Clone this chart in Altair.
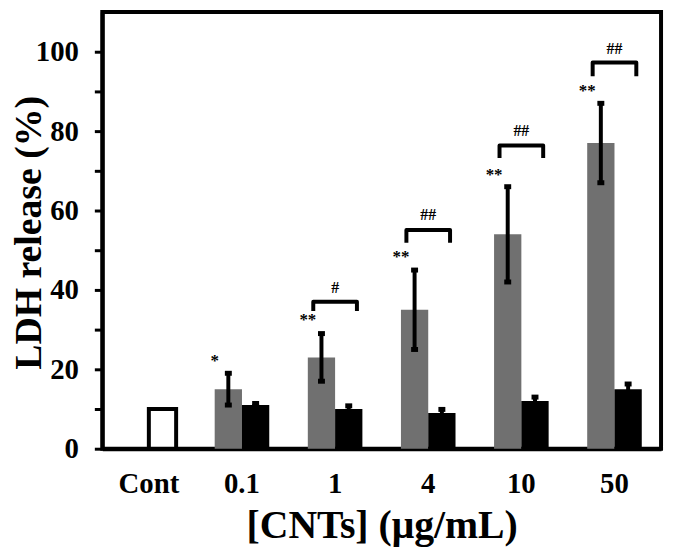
import altair as alt
import pandas as pd

categories = ["Cont", "0.1", "1", "4", "10", "50"]
gray_vals = [None, 15, 23, 35, 54, 77]
gray_err = [None, 4, 6, 10, 12, 10]
black_vals = [10, 11, 10, 9, 12, 15]
black_err = [None, 0.4, 0.8, 0.9, 1.0, 1.3]
star_labels = ["", "*", "**", "**", "**", "**"]
star_y = [None, 22, 32.5, 48.4, 69, 90]
hash_labels = ["", "", "#", "##", "##", "##"]
bracket_low = [None, None, 34.7, 51.9, 73.2, 93.8]
bracket_high = [None, None, 37.0, 55.1, 76.4, 97.3]
hash_y = [None, None, 40.4, 58.8, 79.9, 100.7]

FONT = "Liberation Serif"

bar_rows, err_rows, star_rows, hash_rows, br_rows = [], [], [], [], []
for i, c in enumerate(categories):
    if gray_vals[i] is not None:
        bar_rows.append({"cat": c, "slot": "g", "kind": "gray", "val": gray_vals[i]})
    bar_rows.append({"cat": c, "slot": "b", "kind": "cont" if c == "Cont" else "black", "val": black_vals[i]})
    if gray_err[i] is not None:
        err_rows.append({"cat": c, "slot": "g", "lo": gray_vals[i] - gray_err[i], "hi": gray_vals[i] + gray_err[i]})
    if black_err[i] is not None:
        err_rows.append({"cat": c, "slot": "b", "lo": black_vals[i] - black_err[i], "hi": black_vals[i] + black_err[i]})
    if star_y[i] is not None:
        star_rows.append({"cat": c, "slot": "g", "y": star_y[i], "t": star_labels[i]})
    if hash_y[i] is not None:
        hash_rows.append({"cat": c, "y": hash_y[i], "t": hash_labels[i]})
        br_rows += [
            {"cat": c, "side": "L", "y": bracket_low[i], "o": 0},
            {"cat": c, "side": "L", "y": bracket_high[i], "o": 1},
            {"cat": c, "side": "R", "y": bracket_high[i], "o": 2},
            {"cat": c, "side": "R", "y": bracket_low[i], "o": 3},
        ]

bars = pd.DataFrame(bar_rows)
errs = pd.DataFrame(err_rows)
stars = pd.DataFrame(star_rows)
hashes = pd.DataFrame(hash_rows)
brk = pd.DataFrame(br_rows)

xscale = alt.Scale(domain=categories, paddingInner=0.414, paddingOuter=0.207)
offscale = alt.Scale(domain=["g", "b"], paddingInner=0, paddingOuter=0)
yscale = alt.Scale(domain=[0, 110], nice=False)

x_axis = alt.Axis(title="[CNTs] (μg/mL)", labelAngle=0)
y_axis = alt.Axis(title="LDH release (%)", values=list(range(0, 101, 10)),
                  labelExpr="datum.value % 20 == 0 ? datum.label : ''")


def X():
    return alt.X("cat:N", scale=xscale, sort=categories, axis=x_axis)


def Y(field):
    return alt.Y(field, scale=yscale, axis=y_axis)


bar_layer = alt.Chart(bars).mark_bar(strokeWidth=4).encode(
    x=X(),
    xOffset=alt.XOffset("slot:N", scale=offscale),
    y=Y("val:Q"),
    fill=alt.Fill("kind:N", scale=alt.Scale(domain=["gray", "black", "cont"],
                                            range=["#707070", "#000000", "#ffffff"]), legend=None),
    stroke=alt.condition("datum.kind == 'cont'", alt.value("black"), alt.value("transparent")),
)

err_layer = alt.Chart(errs).mark_rule(strokeWidth=4, color="black").encode(
    x=X(),
    xOffset=alt.XOffset("slot:N", scale=offscale),
    y=Y("lo:Q"),
    y2="hi:Q",
)

cap_hi = alt.Chart(errs).mark_tick(thickness=5, size=7, color="black", opacity=1).encode(
    x=X(),
    xOffset=alt.XOffset("slot:N", scale=offscale),
    y=Y("hi:Q"),
)
cap_lo = alt.Chart(errs).mark_tick(thickness=5, size=7, color="black", opacity=1).encode(
    x=X(),
    xOffset=alt.XOffset("slot:N", scale=offscale),
    y=Y("lo:Q"),
)

star_layer = alt.Chart(stars).mark_text(font=FONT, fontSize=17, fontWeight="bold", color="black",
                                        baseline="middle").encode(
    x=X(),
    xOffset=alt.XOffset("slot:N", scale=offscale),
    y=Y("y:Q"),
    text="t:N",
)

hash_layer = alt.Chart(hashes).mark_text(font=FONT, fontSize=16, fontWeight="bold", color="black",
                                         baseline="middle").encode(
    x=X(),
    y=Y("y:Q"),
    text="t:N",
)

bracket_layer = alt.Chart(brk).mark_line(strokeWidth=4, color="black", strokeJoin="round",
                                         strokeCap="butt").encode(
    x=X(),
    xOffset=alt.XOffset("side:N", scale=alt.Scale(type="point", domain=["L", "R"], padding=0.125)),
    y=Y("y:Q"),
    detail="cat:N",
    order="o:Q",
)

chart = alt.layer(
    bar_layer, err_layer, cap_hi, cap_lo, star_layer, hash_layer, bracket_layer
).resolve_scale(xOffset="independent").properties(
    width=563, height=440,
    background="white",
    autosize=alt.AutoSizeParams(type="none"),
    padding={"left": 95, "top": 2, "right": 6, "bottom": 100},
).configure_view(stroke="black", strokeWidth=4).configure_axis(
    labelFont=FONT, labelFontWeight="bold", labelColor="black", labelFontSize=29,
    titleFont=FONT, titleFontWeight="bold", titleColor="black",
    domainColor="black", domainWidth=4, grid=False,
).configure_axisX(
    ticks=False, labelPadding=21, titleFontSize=40, titleY=57, titleBaseline="top",
).configure_axisY(
    tickSize=8, tickWidth=3, tickColor="black", labelPadding=16,
    titleFontSize=38, titleX=-62, titleY=222, titleAngle=270, titleBaseline="alphabetic",
)

chart.save("out.html", embed_options={"renderer": "svg", "actions": False})
